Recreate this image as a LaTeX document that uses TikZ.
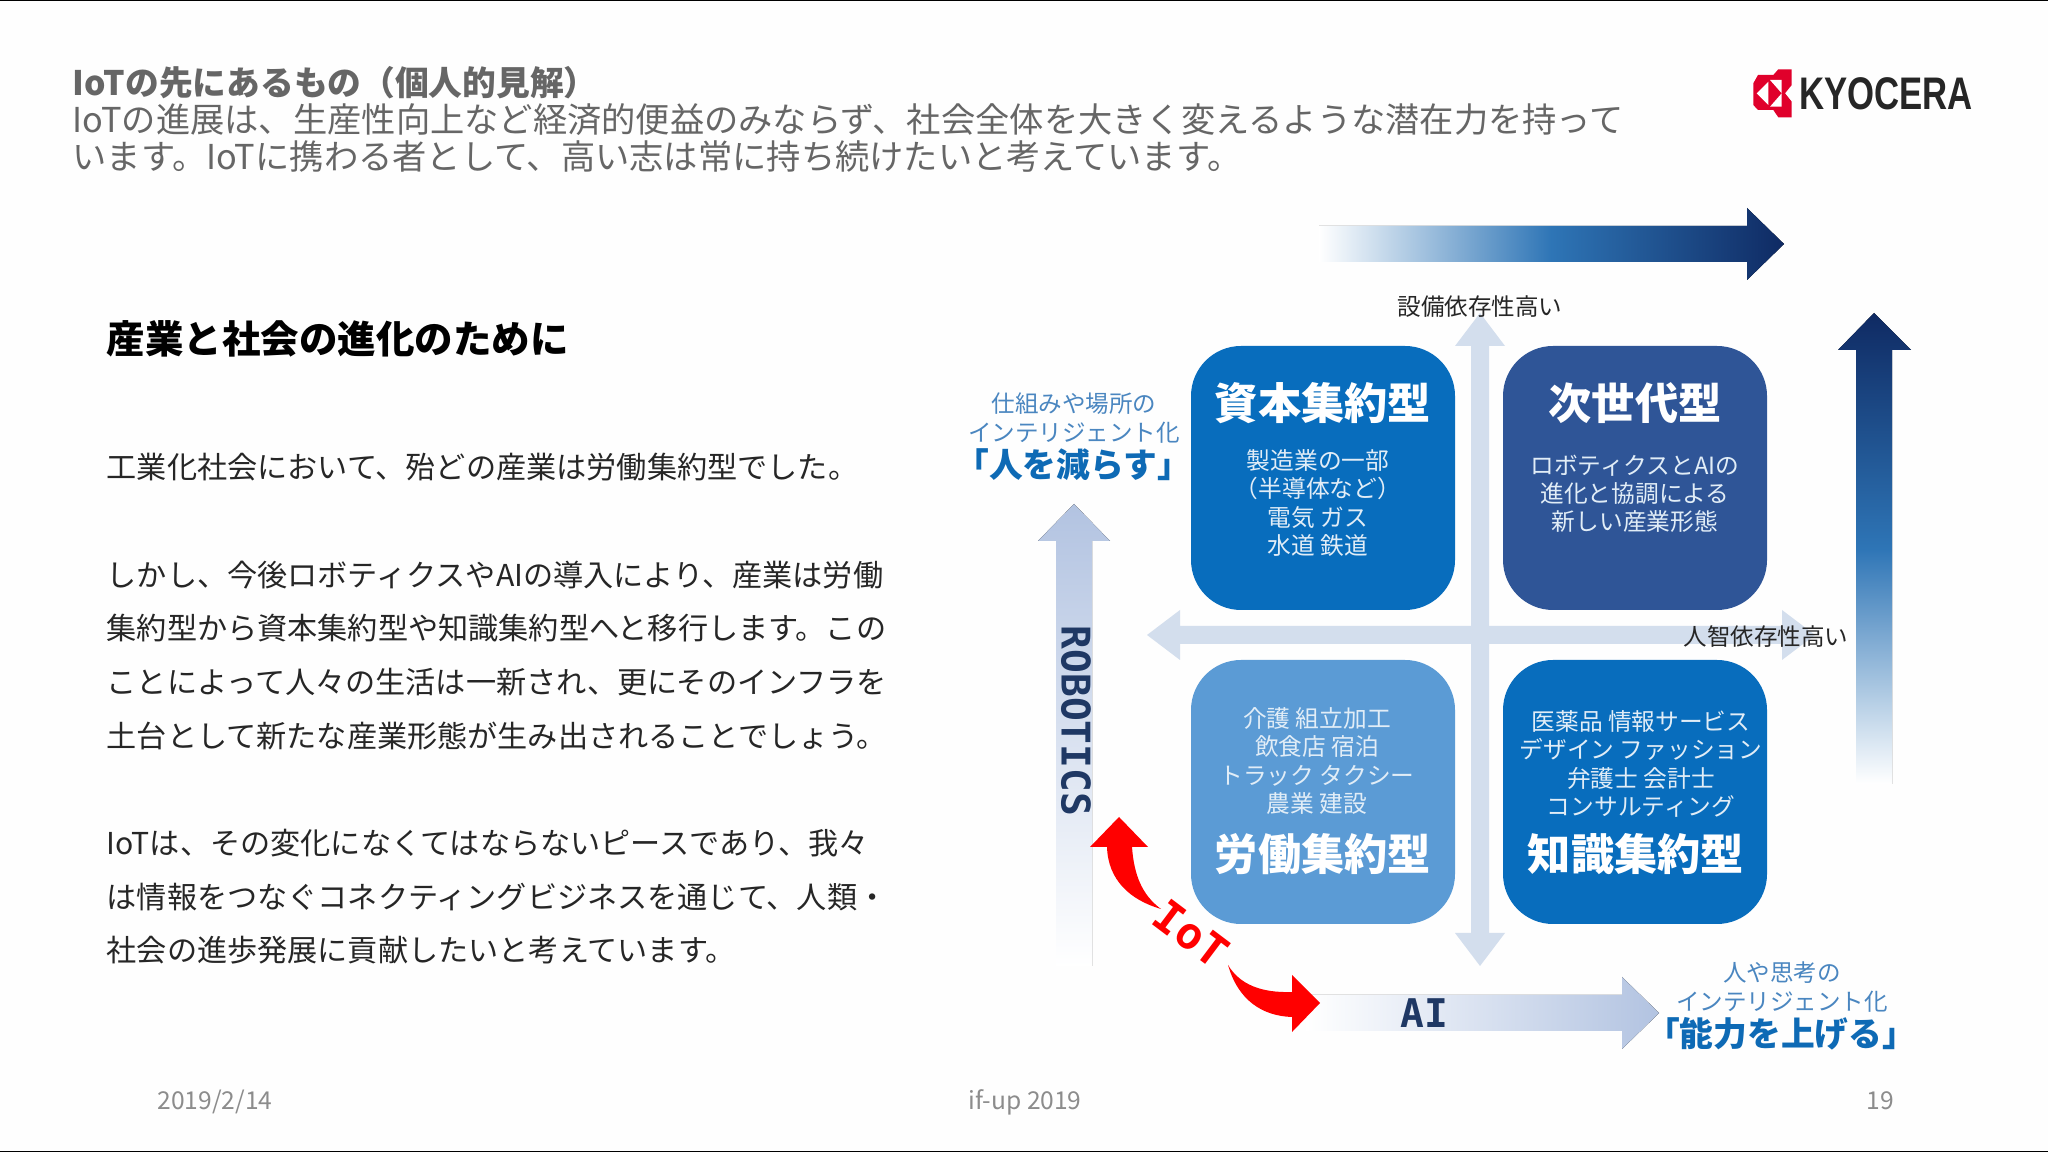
\documentclass[tikz,border=0pt]{standalone}
\usepackage{xcolor}
\usepackage{fontspec}
\usepackage{tikz}
\usetikzlibrary{positioning,calc}
\setmainfont{Noto Sans CJK JP}
\newfontfamily\slabfont{DejaVu Sans Mono}
\newfontfamily\logofont{Liberation Sans}
\definecolor{pagebg}{HTML}{fefefe}
\definecolor{headgrey}{HTML}{666666}
\definecolor{footgrey}{HTML}{8c8c8c}
\definecolor{bodyblack}{HTML}{262626}
\definecolor{capblue}{HTML}{086dbd}
\definecolor{nextblue}{HTML}{2f5597}
\definecolor{laborblue}{HTML}{5b9bd5}
\definecolor{navy}{HTML}{0f2a63}
\definecolor{midblue}{HTML}{2e75b6}
\definecolor{crossblue}{HTML}{d3deed}
\definecolor{axisblue}{HTML}{b2c3e1}
\definecolor{labelblue}{HTML}{4a86c0}
\definecolor{boldblue}{HTML}{0e6ab5}
\definecolor{inkblue}{HTML}{1f3864}
\definecolor{kyored}{HTML}{e0002b}
\tikzset{
  quadbox/.style={rounded corners=5mm, minimum width=26.4mm, minimum height=26.4mm, inner sep=0pt},
  quadtitle/.style={text=white, font=\fontsize{12.3}{14}\selectfont\bfseries},
  quadtext/.style={text=white!88!capblue, align=center, font=\fontsize{6.75}{8.05}\selectfont},
  axistext/.style={text=bodyblack, font=\fontsize{6.7}{8}\selectfont},
  sidetext/.style={text=labelblue, align=center, font=\fontsize{6.7}{8.1}\selectfont},
  sidebold/.style={text=boldblue, font=\fontsize{9.6}{11}\selectfont\bfseries},
  foottext/.style={text=footgrey, font=\fontsize{7}{9}\selectfont},
  slabtext/.style={text=inkblue, font=\fontsize{11.25}{13}\slabfont\bfseries}
}
\begin{document}
\begin{tikzpicture}[x=0.1mm, y=-0.1mm]
  \useasboundingbox (0, 0) rectangle (2048, 1152);
  \fill[pagebg] (0, 0) rectangle (2048, 1152);
  \fill[black] (0, 0) rectangle (2048, 1.5);
  \fill[black] (0, 1150.5) rectangle (2048, 1152);

  % Slide header
  \node[anchor=west, inner sep=0pt, text=headgrey, font=\fontsize{9.6}{11}\selectfont\bfseries] (slidetitle) at (72, 83) {IoTの先にあるもの（個人的見解）};
  \node[anchor=west, inner sep=0pt, text=headgrey, align=left, font=\fontsize{9.75}{10.4}\selectfont] (slidelead) at (72, 138) {IoTの進展は、生産性向上など経済的便益のみならず、社会全体を大きく変えるような潜在力を持って\\います。IoTに携わる者として、高い志は常に持ち続けたいと考えています。};

  % Logo
  \fill[kyored] (1773.3, 75) -- (1778.3, 69.3) -- (1791.7, 69.3) -- (1791.7, 85) -- (1785, 93.3) -- (1791.7, 101.7) -- (1791.7, 117.3) -- (1778.3, 117.3) -- (1773.3, 110) -- (1758, 110) -- (1753.3, 105) -- (1753.3, 83.3) -- (1758, 75) -- cycle;
  \fill[white] (1756.7, 93.3) -- (1768.3, 81.7) -- (1768.3, 105) -- cycle;
  \fill[white] (1770, 80) -- (1781.7, 80) -- (1781.7, 93.3) -- cycle;
  \fill[white] (1770, 106.7) -- (1781.7, 106.7) -- (1781.7, 93.3) -- cycle;
  \node[text=black!85, xscale=0.76, transform shape, font=\fontsize{13}{15}\logofont\bfseries] (logotext) at (1886, 94) {KYOCERA};

  % Left column
  \node[anchor=west, inner sep=0pt, text=black, font=\fontsize{10.95}{13}\selectfont\bfseries] (heading) at (106, 339) {産業と社会の進化のために};
  \node[anchor=west, inner sep=0pt, text=bodyblack, align=left, font=\fontsize{8.58}{15.27}\selectfont] (bodytext) at (106, 709) {工業化社会において、殆どの産業は労働集約型でした。\\[15.27pt]
    しかし、今後ロボティクスやAIの導入により、産業は労働\\
    集約型から資本集約型や知識集約型へと移行します。この\\
    ことによって人々の生活は一新され、更にそのインフラを\\
    土台として新たな産業形態が生み出されることでしょう。\\[15.27pt]
    IoTは、その変化になくてはならないピースであり、我々\\
    は情報をつなぐコネクティングビジネスを通じて、人類・\\
    社会の進歩発展に貢献したいと考えています。};

  % Gradient arrows, outer
  \fill[left color=white, right color=navy, middle color=midblue] (1319, 226) -- (1747, 226) -- (1747, 208) -- (1784, 244) -- (1747, 280) -- (1747, 262) -- (1319, 262) -- cycle;
  \fill[top color=navy, bottom color=white, middle color=midblue] (1856, 784) -- (1856, 350) -- (1838, 350) -- (1874, 313) -- (1911, 350) -- (1892, 350) -- (1892, 784) -- cycle;

  % Axis arrows, inner
  \fill[top color=axisblue, bottom color=white] (1056, 966) -- (1056, 541) -- (1038, 541) -- (1074, 504) -- (1110, 541) -- (1092, 541) -- (1092, 966) -- cycle;
  \fill[left color=white, right color=axisblue] (1306, 995) -- (1622, 995) -- (1622, 977) -- (1659, 1013) -- (1622, 1049) -- (1622, 1031) -- (1306, 1031) -- cycle;

  % Cross in the middle
  \fill[crossblue] (1147, 635) -- (1180, 610) -- (1180, 626) -- (1782, 626) -- (1782, 610) -- (1815, 635) -- (1782, 660) -- (1782, 644) -- (1180, 644) -- (1180, 660) -- cycle;
  \fill[crossblue] (1480, 313) -- (1505, 346) -- (1489, 346) -- (1489, 933) -- (1505, 933) -- (1480, 966) -- (1455, 933) -- (1471, 933) -- (1471, 346) -- (1455, 346) -- cycle;

  % Quadrants
  \node[quadbox, fill=capblue] (capbox) at (1323, 478) {};
  \node[quadbox, fill=nextblue] (nextbox) at (1635, 478) {};
  \node[quadbox, fill=laborblue] (laborbox) at (1323, 792) {};
  \node[quadbox, fill=capblue] (knowbox) at (1635, 792) {};

  \node[quadtitle] (captitle) at (1323, 403) {資本集約型};
  \node[quadtitle] (nexttitle) at (1635, 403) {次世代型};
  \node[quadtitle] (labortitle) at (1323, 854) {労働集約型};
  \node[quadtitle] (knowtitle) at (1636, 854) {知識集約型};

  \node[quadtext] (captext) at (1318, 503) {製造業の一部\\（半導体など）\\電気 ガス\\水道 鉄道};
  \node[quadtext] (nexttext) at (1635, 494) {ロボティクスとAIの\\進化と協調による\\新しい産業形態};
  \node[quadtext] (labortext) at (1317, 761) {介護 組立加工\\飲食店 宿泊\\トラック タクシー\\農業 建設};
  \node[quadtext] (knowtext) at (1641, 764) {医薬品 情報サービス\\デザイン ファッション\\弁護士 会計士\\コンサルティング};

  % Axis labels
  \node[axistext] (uplabel) at (1480, 307) {設備依存性高い};
  \node[axistext] (rightlabel) at (1766, 637) {人智依存性高い};

  \node[sidetext] (leftnote) at (1074, 418) {仕組みや場所の\\インテリジェント化};
  \node[sidebold] (leftbold) at (1073, 465) {「人を減らす」};
  \node[sidetext] (rightnote) at (1782, 987) {人や思考の\\インテリジェント化};
  \node[sidebold] (rightbold) at (1781, 1034) {「能力を上げる」};

  \node[slabtext, rotate=-90] (robotics) at (1076, 721) {ROBOTICS};
  \node[slabtext] (aitext) at (1424, 1013) {AI};

  % IoT arrows
  \fill[red] (1119, 817) -- (1148, 847) -- (1132, 847) .. controls (1134, 875) and (1142, 895) .. (1161, 909) .. controls (1130, 900) and (1108, 880) .. (1107, 847) -- (1090, 847) -- cycle;
  \fill[red] (1320, 1003) -- (1292, 1032) -- (1292, 1017) .. controls (1262, 1016) and (1238, 1000) .. (1228, 965) .. controls (1240, 985) and (1262, 993) .. (1292, 992) -- (1292, 975) -- cycle;
  \node[text=red, rotate=-37, font=\fontsize{12.5}{14}\slabfont\bfseries] (iottext) at (1191, 934) {IoT};

  % Footer
  \node[foottext] (datetext) at (215, 1102) {2019/2/14};
  \node[foottext] (eventtext) at (1025, 1102) {if-up 2019};
  \node[foottext] (pagetext) at (1880, 1101) {19};
\end{tikzpicture}
\end{document}
